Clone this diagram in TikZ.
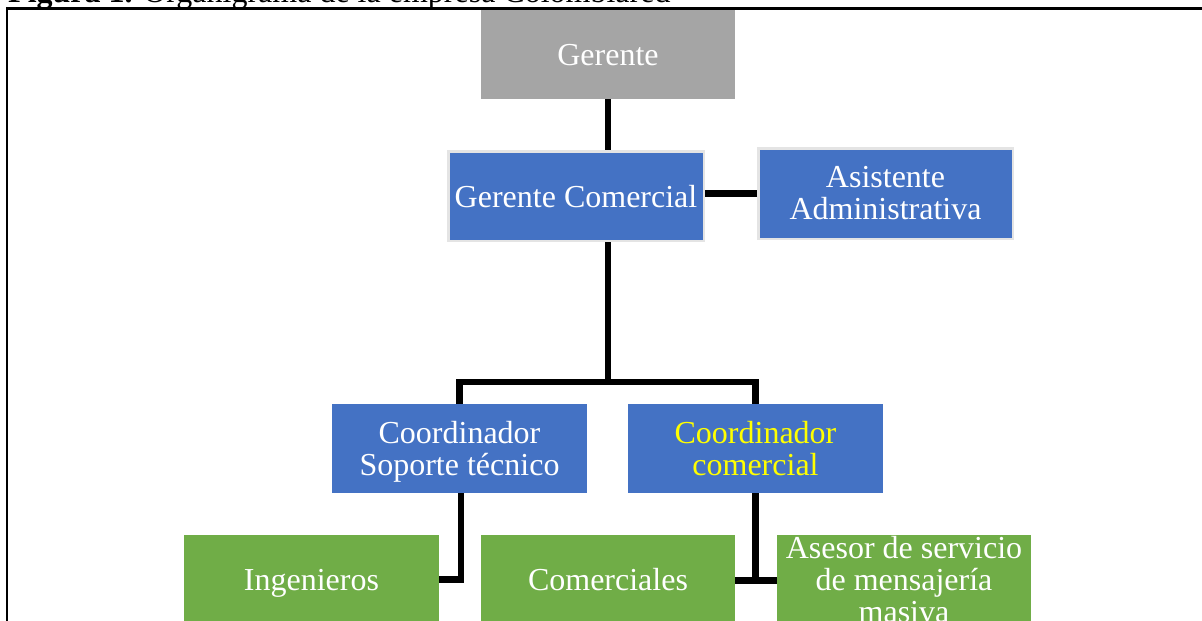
\documentclass[tikz,border=0pt]{standalone}
\usepackage{fontspec}
\setmainfont{Liberation Serif}
\definecolor{ggray}{HTML}{A5A5A5}
\definecolor{gblue}{HTML}{4472C4}
\definecolor{ggreen}{HTML}{70AD47}
\definecolor{gedge}{HTML}{E4E4E4}
\definecolor{gyellow}{HTML}{FFFF00}
\tikzset{
  box/.style={inner sep=0pt, align=center, text=white, minimum height=89pt,
    font=\fontsize{32}{32}\selectfont},
  oneline/.style={text height=22pt, text depth=0pt},
  graybox/.style={box, fill=ggray},
  bluebox/.style={box, fill=gblue},
  edgedbox/.style={bluebox, draw=gedge, line width=2.5pt},
  greenbox/.style={box, fill=ggreen},
  link/.style={line width=6.5pt, black},
  frameline/.style={line width=2.2pt, black}
}
\begin{document}
\begin{tikzpicture}[x=1pt, y=-1pt]
\useasboundingbox (0,0) rectangle (1202,621);
% caption (cut by the page edge)
\node[anchor=base west, inner sep=0pt, font=\fontsize{32}{33}\selectfont] (cap) at (8,2) {\textbf{Figura 1.} Organigrama de la empresa Colombiared};
% frame
\coordinate (fr1) at (7,621);
\coordinate (fr2) at (7,8.5);
\coordinate (fr3) at (1205,8.5);
\draw[frameline] (fr1) -- (fr2) -- (fr3);
% boxes
\node[graybox, oneline, minimum width=254pt] (ger) at (608,54.5) {Gerente};
\node[edgedbox, oneline, minimum width=255.5pt, minimum height=89.5pt] (gc) at (576,196) {Gerente Comercial};
\node[edgedbox, minimum width=254.5pt, minimum height=90.5pt] (asis) at (885.5,193.5) {Asistente\\Administrativa};
\node[bluebox, minimum width=255pt] (cst) at (459.5,448.5) {Coordinador\\\raisebox{0pt}[\height][0pt]{Soporte técnico}};
\node[bluebox, minimum width=255pt, text=gyellow] (cc) at (755.5,448.5) {Coordinador\\comercial};
\node[greenbox, oneline, minimum width=255pt] (ing) at (311.5,579.5) {Ingenieros};
\node[greenbox, oneline, minimum width=254pt] (com) at (608,579.5) {Comerciales};
\node[greenbox, minimum width=254pt] (ase) at (904,579.5) {Asesor de servicio\\de mensajería\\masiva};
% connectors
\coordinate (bus) at (608,382);
\draw[link] (ger.south) -- (ger.south |- gc.north);
\draw[link] (asis.west) -- (asis.west -| gc.east);
\draw[link] (bus |- gc.south) -- (bus);
\draw[link] (cst.north) -- (cst.north |- bus) -- (cc.north |- bus) -- (cc.north);
\draw[link] ([xshift=1.5pt]cst.south) -- ([xshift=1.5pt]cst.south |- ing.east) -- (ing.east);
\draw[link] (cc.south) -- ([yshift=2pt]cc.south |- com.east);
\draw[link] ([yshift=-1pt]com.east) -- ([yshift=-1pt]ase.west);
\end{tikzpicture}
\end{document}
